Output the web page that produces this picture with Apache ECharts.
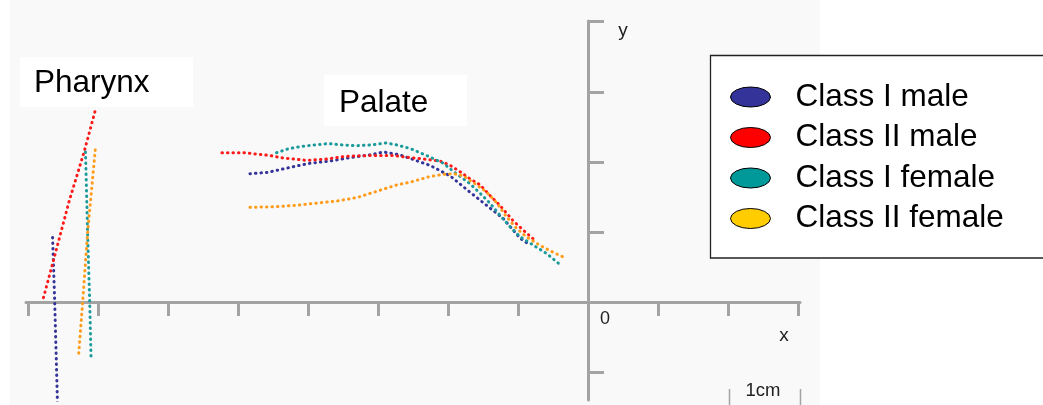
<!DOCTYPE html>
<html>
<head>
<meta charset="utf-8">
<script src="https://cdn.jsdelivr.net/npm/echarts@6/dist/echarts.min.js"></script>
<style>
  html, body { margin: 0; padding: 0; background: #fff; }
  #chart { width: 1043px; height: 405px; }
</style>
</head>
<body>
<div id="chart"></div>
<script>
// series names (legend order)
const classNames = ['Class I male', 'Class II male', 'Class I female', 'Class II female'];
const lineColors = ['#333399', '#ff1a1a', '#1a9a9a', '#ff9c1a'];
const legendColors = ['#333399', '#ff0000', '#009999', '#ffcc00'];

// tick positions, in cm
const xTicks = [-8, -7, -6, -5, -4, -3, -2, -1, 0, 1, 2, 3];
const yTicks = [-1, 0, 1, 2, 3, 4];

// pharynx traces [x cm, y cm]
const pharynxClassIMale = [[-7.65, 0.92], [-7.62, 0], [-7.58, -1.46]];
const pharynxClassIIMale = [[-7.78, 0.06], [-7.59, 0.77], [-7.41, 1.45], [-7.20, 2.14], [-7.03, 2.77]];
const pharynxClassIFemale = [[-7.18, 2.14], [-7.15, 0.98], [-7.12, 0], [-7.10, -0.83]];
const pharynxClassIIFemale = [[-7.04, 2.17], [-7.15, 0.98], [-7.22, 0], [-7.28, -0.79]];

// palate traces [x cm, y cm]
const palateClassIMale = [
  [-4.83, 1.83], [-4.57, 1.85], [-4.26, 1.92], [-3.97, 1.98], [-3.69, 2.01], [-3.40, 2.06],
  [-3.11, 2.10], [-2.92, 2.14], [-2.69, 2.10], [-2.26, 1.95], [-1.97, 1.80], [-1.69, 1.57],
  [-1.40, 1.34], [-1.21, 1.19], [-0.97, 0.91], [-0.87, 0.84]
];
const palateClassIIMale = [
  [-5.23, 2.13], [-4.92, 2.13], [-4.54, 2.09], [-4.40, 2.06], [-4.02, 2.02], [-3.73, 2.04],
  [-3.45, 2.08], [-3.11, 2.09], [-2.78, 2.09], [-2.54, 2.06], [-2.35, 2.04], [-2.11, 2.01],
  [-1.97, 1.95], [-1.83, 1.86], [-1.69, 1.76], [-1.54, 1.67], [-1.40, 1.52], [-1.26, 1.38],
  [-1.07, 1.16], [-0.92, 1.02], [-0.76, 0.88]
];
const palateClassIFemale = [
  [-4.45, 2.13], [-4.30, 2.18], [-4.16, 2.21], [-3.92, 2.24], [-3.71, 2.26], [-3.50, 2.24],
  [-3.30, 2.23], [-3.11, 2.24], [-2.88, 2.27], [-2.73, 2.24], [-2.54, 2.19], [-2.26, 2.07],
  [-2.07, 1.98], [-1.88, 1.83], [-1.69, 1.69], [-1.54, 1.55], [-1.40, 1.41], [-1.26, 1.24],
  [-1.11, 1.07], [-0.97, 0.93], [-0.78, 0.81], [-0.59, 0.69], [-0.42, 0.55]
];
const palateClassIIFemale = [
  [-4.83, 1.35], [-4.45, 1.36], [-4.16, 1.38], [-3.88, 1.41], [-3.59, 1.44], [-3.30, 1.49],
  [-3.11, 1.55], [-2.92, 1.61], [-2.73, 1.67], [-2.54, 1.71], [-2.26, 1.79], [-2.07, 1.82],
  [-1.92, 1.83], [-1.78, 1.80], [-1.59, 1.67], [-1.45, 1.57], [-1.30, 1.41], [-1.16, 1.21],
  [-1.02, 1.05], [-0.88, 0.93], [-0.69, 0.81], [-0.50, 0.71], [-0.35, 0.64]
];

const pharynxData = [pharynxClassIMale, pharynxClassIIMale, pharynxClassIFemale, pharynxClassIIFemale];
const palateData = [palateClassIMale, palateClassIIMale, palateClassIFemale, palateClassIIFemale];

const FONT = '"Liberation Sans", Arial, sans-serif';
const AXIS_GRAY = '#a3a3a3';
const ELLIPSE = 'path://M0,10 A20,10 0 1,1 40,10 A20,10 0 1,1 0,10 Z';

function dotted(color) {
  return { color: color, width: 3, type: [0.5, 5], cap: 'round' };
}

const series = [];
classNames.forEach((name, i) => {
  [pharynxData[i], palateData[i]].forEach(d => {
    series.push({
      name: name,
      type: 'line',
      data: d,
      showSymbol: false,
      color: lineColors[i],
      lineStyle: dotted(lineColors[i]),
      z: 3
    });
  });
});

const chart = echarts.init(document.getElementById('chart'));
chart.setOption({
  animation: false,
  backgroundColor: '#ffffff',
  grid: { left: 26, right: 243, top: 21, bottom: 5 },
  xAxis: {
    type: 'value', min: -8.03, max: 3.03,
    axisLine: { onZero: true, lineStyle: { color: AXIS_GRAY, width: 3 } },
    axisTick: { customValues: xTicks, length: 14, lineStyle: { color: AXIS_GRAY, width: 3 } },
    axisLabel: { show: false },
    splitLine: { show: false }
  },
  yAxis: {
    type: 'value', min: -1.4, max: 4.01,
    axisLine: { show: true, onZero: true, lineStyle: { color: AXIS_GRAY, width: 3 } },
    axisTick: { show: true, inside: true, customValues: yTicks, length: 16, lineStyle: { color: AXIS_GRAY, width: 3 } },
    axisLabel: { show: false },
    splitLine: { show: false }
  },
  legend: {
    orient: 'vertical',
    left: 730, top: 81,
    padding: 0,
    itemWidth: 40, itemHeight: 20, itemGap: 8.5,
    icon: ELLIPSE,
    itemStyle: { borderColor: '#000', borderWidth: 1 },
    textStyle: { fontFamily: FONT, fontSize: 31.5, lineHeight: 30, color: '#000', padding: [0, 0, 0, 20] },
    selectedMode: false,
    z: 20,
    data: classNames.map((n, i) => ({ name: n, itemStyle: { color: legendColors[i] } }))
  },
  graphic: [
    { type: 'rect', z: -10, silent: true, shape: { x: 10, y: 0, width: 810, height: 405 }, style: { fill: '#f9f9f9' } },
    // legend frame, running off the right edge
    { type: 'rect', z: 10, silent: true, shape: { x: 710.5, y: 55.5, width: 400, height: 202.5 }, style: { fill: '#ffffff', stroke: '#222', lineWidth: 1.3 } },
    { type: 'rect', z: 100, shape: { x: 20, y: 57, width: 173, height: 50 }, style: { fill: '#ffffff' } },
    { type: 'text', z: 101, x: 34, y: 83.5, style: { text: 'Pharynx', font: '31.5px ' + FONT, fill: '#000', verticalAlign: 'middle' } },
    { type: 'rect', z: 100, shape: { x: 324, y: 75, width: 143, height: 51 }, style: { fill: '#ffffff' } },
    { type: 'text', z: 101, x: 339, y: 103.3, style: { text: 'Palate', font: '31.5px ' + FONT, fill: '#000', verticalAlign: 'middle' } },
    { type: 'text', z: 101, x: 605, y: 319, style: { text: '0', font: '18px ' + FONT, fill: '#222', align: 'center', verticalAlign: 'middle' } },
    { type: 'text', z: 101, x: 784, y: 336, style: { text: 'x', font: '19px ' + FONT, fill: '#222', align: 'center', verticalAlign: 'middle' } },
    { type: 'text', z: 101, x: 623, y: 31, style: { text: 'y', font: '19px ' + FONT, fill: '#222', align: 'center', verticalAlign: 'middle' } },
    { type: 'text', z: 101, x: 763, y: 391, style: { text: '1cm', font: '18.5px ' + FONT, fill: '#222', align: 'center', verticalAlign: 'middle' } },
    { type: 'line', z: 101, shape: { x1: 729.5, y1: 389, x2: 729.5, y2: 405 }, style: { stroke: AXIS_GRAY, lineWidth: 1.5 } },
    { type: 'line', z: 101, shape: { x1: 800.5, y1: 389, x2: 800.5, y2: 405 }, style: { stroke: AXIS_GRAY, lineWidth: 1.5 } }
  ],
  series: series
});
</script>
</body>
</html>
